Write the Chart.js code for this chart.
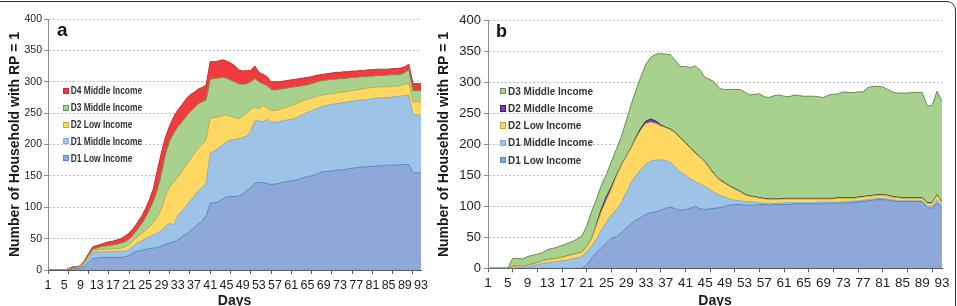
<!DOCTYPE html>
<html>
<head>
<meta charset="utf-8">
<script src="https://cdn.jsdelivr.net/npm/chart.js@4.4.0/dist/chart.umd.min.js"></script>
<style>
  html, body { margin: 0; padding: 0; background: #fff; }
  body { width: 957px; height: 306px; overflow: hidden; position: relative; font-family: "Liberation Sans", Arial, sans-serif; }
  #frame { position: absolute; left: -10px; top: 1px; width: 966px; height: 330px; border: 1.5px solid #333; border-radius: 9px; box-sizing: border-box; }
  canvas { position: absolute; top: 0; }
  #chartA { left: 0; }
  #chartB { left: 432px; }
  .tag { position: absolute; font-weight: bold; color: #111; line-height: 1; }
  .row { position: absolute; display: flex; align-items: center; height: 12px; white-space: nowrap; font-weight: bold; color: #333; transform-origin: left center; }
  .row i { display: inline-block; box-sizing: border-box; border: 1px solid; }
</style>
</head>
<body>
<div id="frame"></div>
<canvas id="chartA" width="432" height="320"></canvas>
<canvas id="chartB" width="525" height="320"></canvas>
<div class="tag" style="left:57px; top:20px; font-size:19px;">a</div>
<div class="tag" style="left:496px; top:22px; font-size:18px;">b</div>
<div id="legendA"></div>
<div id="legendB"></div>

<script>
'use strict'

// days on the x axis
var days = [1,2,3,4,5,6,7,8,9,10,11,12,13,14,15,16,17,18,19,20,21,22,23,24,25,26,27,28,29,30,
  31,32,33,34,35,36,37,38,39,40,41,42,43,44,45,46,47,48,49,50,51,52,53,54,55,56,57,58,59,60,
  61,62,63,64,65,66,67,68,69,70,71,72,73,74,75,76,77,78,79,80,81,82,83,84,85,86,87,88,89,90,91,92,93];
var shownDays = [1,5,9,13,17,21,25,29,33,37,41,45,49,53,57,61,65,69,73,77,81,85,89,93];
var tickMarkDays = [1,6,11,16,21,26,31,36,41,46,51,56,61,66,71,76,81,86,91];
var yTicks = [0,50,100,150,200,250,300,350,400];

// panel a
var aD1Low = [0,0,0,0,0, 0,1,2,3,6, 12,18,19,20,20, 20,20,20,20,21, 23,27,30,31,33, 34,35,36,38,41,
  43,45,48,53,57, 62,67,73,78,86, 106,107,109,113,116, 117,117,118,121,127, 131,138,140,139,138, 136,137,138,140,141,
  142,143,145,147,149, 150,152,155,157,157, 158,159,159,160,161, 162,163,164,164,165, 165,166,166,167,167, 167,167,168,168,168, 155,155,155];
var aD1Mid = [0,0,0,0,0, 0,0,0,1,3, 6,10,10,9,9, 9,9,10,10,9, 9,11,13,15,17, 19,21,23,25,29,
  31,27,38,41,44, 48,50,53,53,52, 80,83,85,86,88, 90,91,91,90,87, 91,99,98,97,102, 100,98,98,98,98,
  98,99,100,101,102, 104,104,104,104,106, 106,106,107,107,107, 107,107,107,107,107, 108,108,108,108,108, 109,109,109,110,111, 93,92,92];
var aD2Low = [0,0,0,0,0, 0,1,1,1,2, 3,3,3,4,4, 4,5,4,5,7, 8,9,10,12,13, 16,20,26,35,48,
  59,68,62,63,66, 66,68,68,69,70, 56,53,50,47,43, 38,35,32,34,36, 34,23,19,26,18, 18,19,20,20,21,
  22,22,22,22,21, 20,20,19,18,17, 17,17,17,17,17, 17,17,17,18,18, 18,17,18,17,17, 17,17,17,18,19, 20,21,21];
var aD3Mid = [0,0,0,0,0, 1,1,1,1,2, 2,2,3,4,5, 6,6,7,8,8, 9,9,11,15,20, 27,34,43,57,67,
  73,78,80,79,77, 76,73,71,68,63, 62,62,62,61,59, 58,57,56,51,47, 44,45,43,35,36, 34,33,32,31,30,
  29,28,26,24,23, 23,23,23,23,23, 23,22,22,21,21, 21,20,20,19,19, 18,19,18,18,19, 18,18,18,19,21, 18,18,18];
var aD4Mid = [0,0,0,0,0, 1,2,1,1,2, 3,4,4,4,5, 6,6,7,7,9, 10,10,11,12,14, 16,20,32,33,27,
  24,26,27,27,28, 27,25,23,23,24, 28,27,27,28,27, 27,26,22,21,21, 18,20,15,15,14, 12,13,12,12,12,
  12,12,12,12,12, 11,11,10,10,10, 10,11,10,11,10, 10,10,10,10,10, 10,10,10,10,9, 10,10,10,9,9, 11,11,11];

// panel b
var bD1Low = [0,0,0,0,0, 0,0,0,0,0, 0,0,0,0,0, 0,0,0,0,0, 5,16,26,33,41, 48,51,57,65,72,
  78,82,87,90,91, 94,97,99,96,94, 95,97,100,96,95, 96,97,98,100,102, 103,103,102,102,102, 103,103,102,103,103,
  103,103,104,104,104, 104,104,104,104,105, 105,105,105,106,106, 107,108,109,110,111, 111,110,109,108,108, 108,108,108,108,98, 97,106,97];
var bD1Mid = [0,0,0,0,0, 0,1,2,3,4, 6,8,9,10,11, 12,13,15,17,19, 22,20,22,29,34, 38,44,49,57,67,
  72,77,82,83,84, 81,77,72,67,62, 55,48,40,40,37, 31,25,20,15,10, 7,6,6,6,5, 3,2,3,2,2,
  3,3,2,2,2, 2,2,3,3,2, 2,2,3,2,3, 2,2,2,2,2, 2,2,2,1,1, 1,1,1,1,3, 3,5,3];
var bD2Low = [0,0,0,0,0, 3,3,2,2,3, 3,4,5,5,5, 6,7,7,7,7, 8,12,22,30,35, 42,53,60,58,55,
  60,65,65,63,59, 55,53,53,55,54, 52,49,46,43,39, 33,28,24,22,20, 18,15,11,8,8, 7,7,6,6,6,
  6,6,6,6,6, 6,6,5,5,5, 5,6,5,5,4, 5,5,5,5,5, 5,5,4,5,4, 4,4,4,4,4, 5,7,6];
var bD2Mid = [0,0,0,0,0, 0,0,0,0,0, 0,0,0,0,0, 0,0,0,0,0, 0,0,2,5,6, 4,2,1,1,1,
  2,3,4,5,4, 2,1,1,1,1, 1,1,1,1,1, 1,1,1,1,1, 1,1,1,1,1, 1,1,1,1,1,
  1,1,1,1,1, 1,1,1,1,1, 1,1,1,1,1, 1,1,1,1,1, 1,1,1,1,1, 1,1,1,1,1, 1,1,1];
var bD3Mid = [0,0,0,0,0, 13,12,11,14,14, 14,13,16,17,18, 19,20,21,23,26, 33,44,40,38,36, 40,42,45,57,69,
  76,83,92,100,108, 115,118,120,116,115, 123,129,140,140,136, 144,149,147,151,156, 160,164,165,163,165, 168,164,164,167,168,
  165,164,167,166,165, 165,165,164,163,167, 168,168,171,170,170, 170,169,175,176,175, 174,171,169,168,169, 169,170,170,170,156, 157,167,163];

var FONT = '"Liberation Sans", Arial, sans-serif';

var colors = {
  d1Low: { fill: '#8EA8DA', line: '#5A86C5' },
  d1Mid: { fill: '#9DC3E6', line: '#7CAEDD' },
  d2Low: { fill: '#FFD864', line: '#C8A83A' },
  d2Mid: { fill: '#8A2BE2', line: '#2F2F35' },
  d3Mid: { fill: '#A8D18D', line: '#648E4A' },
  d4Mid: { fill: '#F03C3C', line: '#D42A2A' }
};

function makeChart(id, series, o) {
  return new Chart(document.getElementById(id), {
    type: 'line',
    data: {
      labels: days,
      datasets: series.map(function(s, i) {
        return {
          label: s.label,
          data: s.data,
          backgroundColor: s.c.fill,
          borderColor: s.c.line,
          borderWidth: 1,
          fill: i === 0 ? 'origin' : '-1',
          pointRadius: 0,
          tension: 0
        };
      })
    },
    options: {
      responsive: false,
      animation: false,
      layout: { padding: { top: o.top, right: o.right, left: 0, bottom: 0 } },
      plugins: { legend: { display: false }, tooltip: { enabled: false } },
      scales: {
        x: {
          ticks: {
            autoSkip: false, maxRotation: 0, minRotation: 0, padding: o.xPad, color: '#222',
            font: { family: FONT, size: o.xFont },
            callback: function(v, i) { return shownDays.indexOf(days[i]) >= 0 ? String(days[i]) : ''; }
          },
          grid: {
            drawOnChartArea: false, tickLength: 4,
            tickColor: function(c) { return tickMarkDays.indexOf(days[c.index]) >= 0 ? '#595959' : 'rgba(0,0,0,0)'; }
          },
          border: { color: '#595959' },
          title: { display: true, text: 'Days', color: '#1a1a1a', font: { family: FONT, size: 14, weight: 'bold' }, padding: { top: 0, bottom: 10 } },
          afterFit: function(s) { s.height = o.xHeight; }
        },
        y: {
          stacked: true, min: 0, max: 400,
          afterBuildTicks: function(s) { s.ticks = yTicks.map(function(v) { return { value: v }; }); },
          ticks: { padding: o.yPad, color: '#222', font: { family: FONT, size: o.yFont } },
          grid: { color: '#bdbdbd', tickColor: '#8c8c8c', tickLength: 4 },
          border: { color: '#8c8c8c', dash: [2, 2] },
          title: { display: true, text: 'Number of Household with RP = 1', color: '#1a1a1a', font: { family: FONT, size: 14, weight: 'bold' }, padding: { top: o.titlePad, bottom: 0 } },
          afterFit: function(s) { s.width = o.yWidth; }
        }
      }
    }
  });
}

var seriesA = [
  { label: 'D1 Low Income', data: aD1Low, c: colors.d1Low },
  { label: 'D1 Middle Income', data: aD1Mid, c: colors.d1Mid },
  { label: 'D2 Low Income', data: aD2Low, c: colors.d2Low },
  { label: 'D3 Middle Income', data: aD3Mid, c: colors.d3Mid },
  { label: 'D4 Middle Income', data: aD4Mid, c: colors.d4Mid }
];
var seriesB = [
  { label: 'D1 Low Income', data: bD1Low, c: colors.d1Low },
  { label: 'D1 Middle Income', data: bD1Mid, c: colors.d1Mid },
  { label: 'D2 Low Income', data: bD2Low, c: colors.d2Low },
  { label: 'D2 Middle Income', data: bD2Mid, c: colors.d2Mid },
  { label: 'D3 Middle Income', data: bD3Mid, c: colors.d3Mid }
];

makeChart('chartA', seriesA, { top: 19, right: 9, xHeight: 50, yWidth: 48, xFont: 12.5, yFont: 10.5, xPad: 4, yPad: 2, titlePad: 6.6 });
makeChart('chartB', seriesB, { top: 20.7, right: 15, xHeight: 51.7, yWidth: 56, xFont: 13.5, yFont: 13, xPad: 3, yPad: 3, titlePad: 3.6 });

// legends drawn as html, top series first
function makeLegend(id, series, o) {
  var box = document.getElementById(id);
  series.slice().reverse().forEach(function(s, i) {
    var row = document.createElement('div');
    row.className = 'row';
    row.style.left = o.x + 'px';
    row.style.top = (o.y0 + i * o.dy - 6) + 'px';
    row.style.fontSize = o.font + 'px';
    row.style.transform = 'scaleX(' + o.squeeze + ')';
    var sq = document.createElement('i');
    sq.style.width = (o.sq / o.squeeze) + 'px';
    sq.style.height = o.sq + 'px';
    sq.style.background = s.c.fill;
    sq.style.borderColor = s.c.line;
    sq.style.marginRight = (o.gap / o.squeeze) + 'px';
    row.appendChild(sq);
    row.appendChild(document.createTextNode(s.label));
    box.appendChild(row);
  });
}
makeLegend('legendA', seriesA, { x: 63.3, y0: 90.7, dy: 16.9, font: 10, squeeze: 0.84, sq: 6, gap: 1.7 });
makeLegend('legendB', seriesB, { x: 499.5, y0: 91, dy: 17.3, font: 10, squeeze: 1, sq: 6.5, gap: 2 });
</script>
</body>
</html>
